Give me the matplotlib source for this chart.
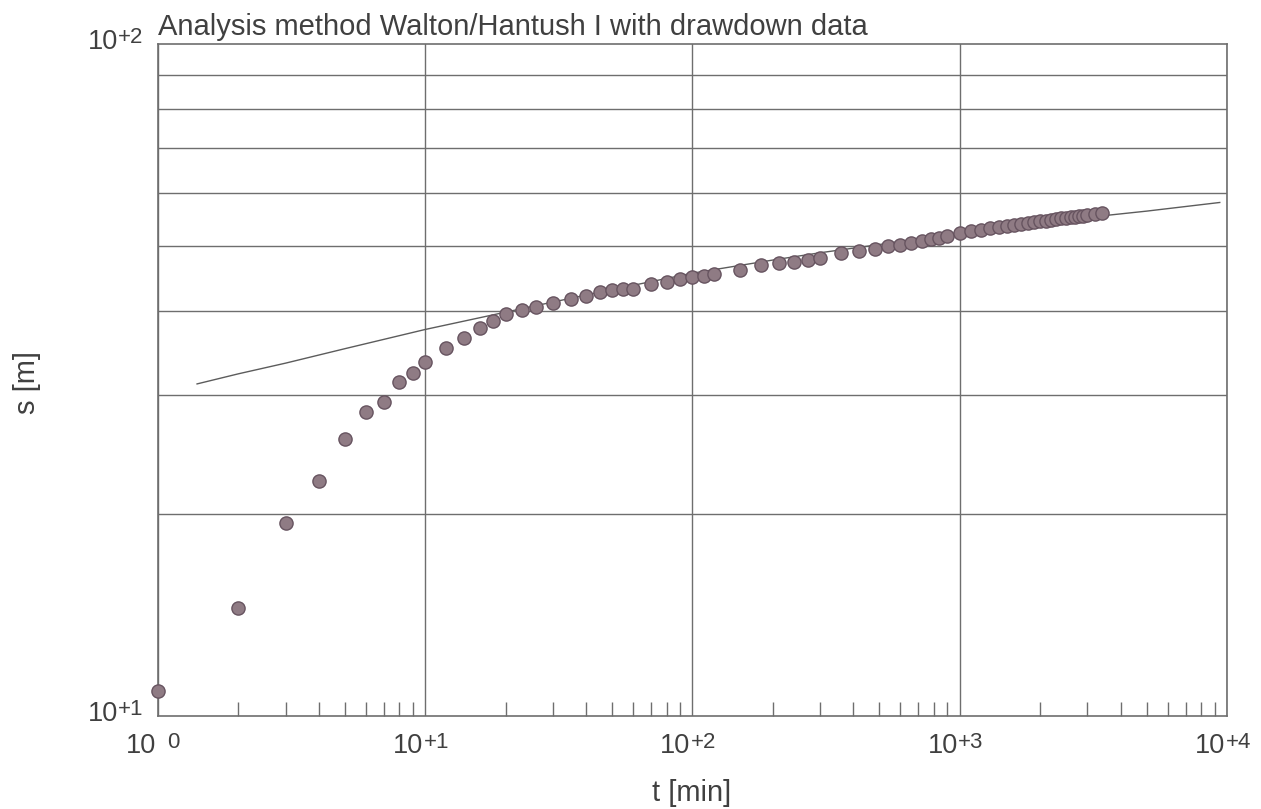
"""
Walton/Hantush I drawdown plot: measured drawdown s against time t on log-log axes,
with the fitted type curve drawn as a thin line.
"""

import matplotlib

matplotlib.use("Agg")
import matplotlib.pyplot as plt
from matplotlib.ticker import FixedLocator, NullFormatter, NullLocator

# measured drawdown (t in minutes, s in metres)
TIME_MIN = [
    1, 2, 3, 4, 5, 6, 7, 8, 9, 10, 12, 14, 16, 18, 20, 23, 26, 30, 35, 40, 45, 50, 55, 60,
    70, 80, 90, 100, 110, 120, 150, 180, 210, 240, 270, 300, 360, 420, 480, 540, 600, 660,
    720, 780, 840, 900, 1000, 1100, 1200, 1300, 1400, 1500, 1600, 1700, 1800, 1900, 2000,
    2100, 2200, 2300, 2400, 2500, 2600, 2700, 2800, 2900, 3000, 3200, 3400,
]
DRAWDOWN_M = [
    10.9, 14.5, 19.4, 22.4, 25.8, 28.3, 29.3, 31.4, 32.4, 33.6, 35.3, 36.5, 37.8, 38.7,
    39.6, 40.2, 40.6, 41.1, 41.7, 42.2, 42.7, 43.0, 43.2, 43.2, 44.0, 44.3, 44.7, 45.0,
    45.2, 45.4, 46.1, 46.9, 47.2, 47.4, 47.7, 48.1, 48.8, 49.2, 49.6, 50.0, 50.3, 50.6,
    50.9, 51.2, 51.5, 51.8, 52.3, 52.6, 52.9, 53.2, 53.4, 53.6, 53.8, 54.0, 54.2, 54.3,
    54.5, 54.6, 54.8, 54.9, 55.0, 55.1, 55.2, 55.3, 55.4, 55.5, 55.6, 55.8, 56.0,
]

# fitted Walton/Hantush type curve
CURVE_T = [1.4, 2, 3, 5, 10, 20, 30, 50, 100, 200, 300, 500, 1000, 2000, 3000, 5000, 9400]
CURVE_S = [31.2, 32.3, 33.5, 35.2, 37.6, 39.9, 41.3, 43.1, 45.6, 47.7, 48.9, 50.3, 52.4,
           54.2, 55.2, 56.4, 58.1]

X_TICKS = [1, 10, 100, 1000, 10000]
X_EXPONENTS = ["0", "+1", "+2", "+3", "+4"]
Y_TICKS = [10, 100]
Y_EXPONENTS = ["+1", "+2"]
Y_GRID = [20, 30, 40, 50, 60, 70, 80, 90]

TITLE = "Analysis method Walton/Hantush I with drawdown data"
X_LABEL = "t [min]"
Y_LABEL = "s [m]"

TEXT_COLOR = "#404040"
GRID_COLOR = "#6e6e6e"
MARKER_FACE = "#8f7b84"
MARKER_EDGE = "#675460"
CURVE_COLOR = "#5c5c5c"

BASE_SIZE = 19.5
EXP_SIZE = 16


def power_label(ax, xy, coords, base_offset, exp_offset, exponent):
    # "10" and its raised exponent as two texts, like the old plotter output
    ax.annotate("10", xy=xy, xycoords=coords, xytext=base_offset, textcoords="offset points",
                ha="right", va="baseline", fontsize=BASE_SIZE, color=TEXT_COLOR,
                annotation_clip=False)
    ax.annotate(exponent, xy=xy, xycoords=coords, xytext=exp_offset, textcoords="offset points",
                ha="left", va="baseline", fontsize=EXP_SIZE, color=TEXT_COLOR,
                annotation_clip=False)


def style_axes(ax):
    ax.set_xscale("log")
    ax.set_yscale("log")
    ax.set_xlim(1, 10000)
    ax.set_ylim(10, 100)

    ax.xaxis.set_major_locator(FixedLocator(X_TICKS))
    ax.xaxis.set_major_formatter(NullFormatter())
    minor_x = [m * 10 ** d for d in range(4) for m in range(2, 10)]
    ax.xaxis.set_minor_locator(FixedLocator(minor_x))
    ax.xaxis.set_minor_formatter(NullFormatter())

    ax.yaxis.set_major_locator(FixedLocator(Y_TICKS))
    ax.yaxis.set_major_formatter(NullFormatter())
    ax.yaxis.set_minor_locator(NullLocator())

    ax.tick_params(axis="both", which="major", length=0)
    ax.tick_params(axis="x", which="minor", direction="in", length=10, width=1.0, color=GRID_COLOR)

    ax.grid(True, which="major", axis="x", color=GRID_COLOR, linewidth=1.0)
    for level in Y_GRID:
        ax.axhline(level, color=GRID_COLOR, linewidth=1.0, zorder=1)

    for spine in ax.spines.values():
        spine.set_color(GRID_COLOR)
        spine.set_linewidth(1.2)

    for tick, exponent in zip(X_TICKS, X_EXPONENTS):
        exp_dx = 6.5 if exponent == "0" else -1.0
        power_label(ax, (tick, 0), ("data", "axes fraction"),
                    (-1.4, -26.6), (exp_dx, -23.0), exponent)
    for tick, exponent in zip(Y_TICKS, Y_EXPONENTS):
        power_label(ax, (0, tick), ("axes fraction", "data"),
                    (-28.8, -3.6), (-28.8, 0.4), exponent)

    ax.set_xlabel(X_LABEL, fontsize=21, color=TEXT_COLOR)
    ax.xaxis.label.set_va("center")
    ax.xaxis.set_label_coords(0.4995, -0.1146)
    ax.set_ylabel(Y_LABEL, fontsize=21, color=TEXT_COLOR)
    ax.yaxis.label.set_va("center")
    ax.yaxis.set_label_coords(-0.1225, 0.497)


def main():
    plt.rcParams["font.family"] = ["Liberation Sans", "DejaVu Sans"]

    fig = plt.figure(figsize=(12.61, 8.09), dpi=100)
    ax = fig.add_axes([0.1253, 0.115, 0.973 - 0.1253, 0.9456 - 0.115])

    style_axes(ax)

    ax.plot(CURVE_T, CURVE_S, color=CURVE_COLOR, linewidth=1.0, zorder=3)
    ax.plot(
        TIME_MIN,
        DRAWDOWN_M,
        linestyle="none",
        marker="o",
        markersize=9.5,
        markerfacecolor=MARKER_FACE,
        markeredgecolor=MARKER_EDGE,
        markeredgewidth=1.0,
        zorder=4,
        clip_on=False,
    )

    ax.annotate(TITLE, xy=(0, 1), xycoords="axes fraction", xytext=(0, 6.5),
                textcoords="offset points", ha="left", va="baseline",
                fontsize=21, color=TEXT_COLOR)

    fig.savefig("out.png", dpi=100)
    plt.close(fig)


if __name__ == "__main__":
    main()
